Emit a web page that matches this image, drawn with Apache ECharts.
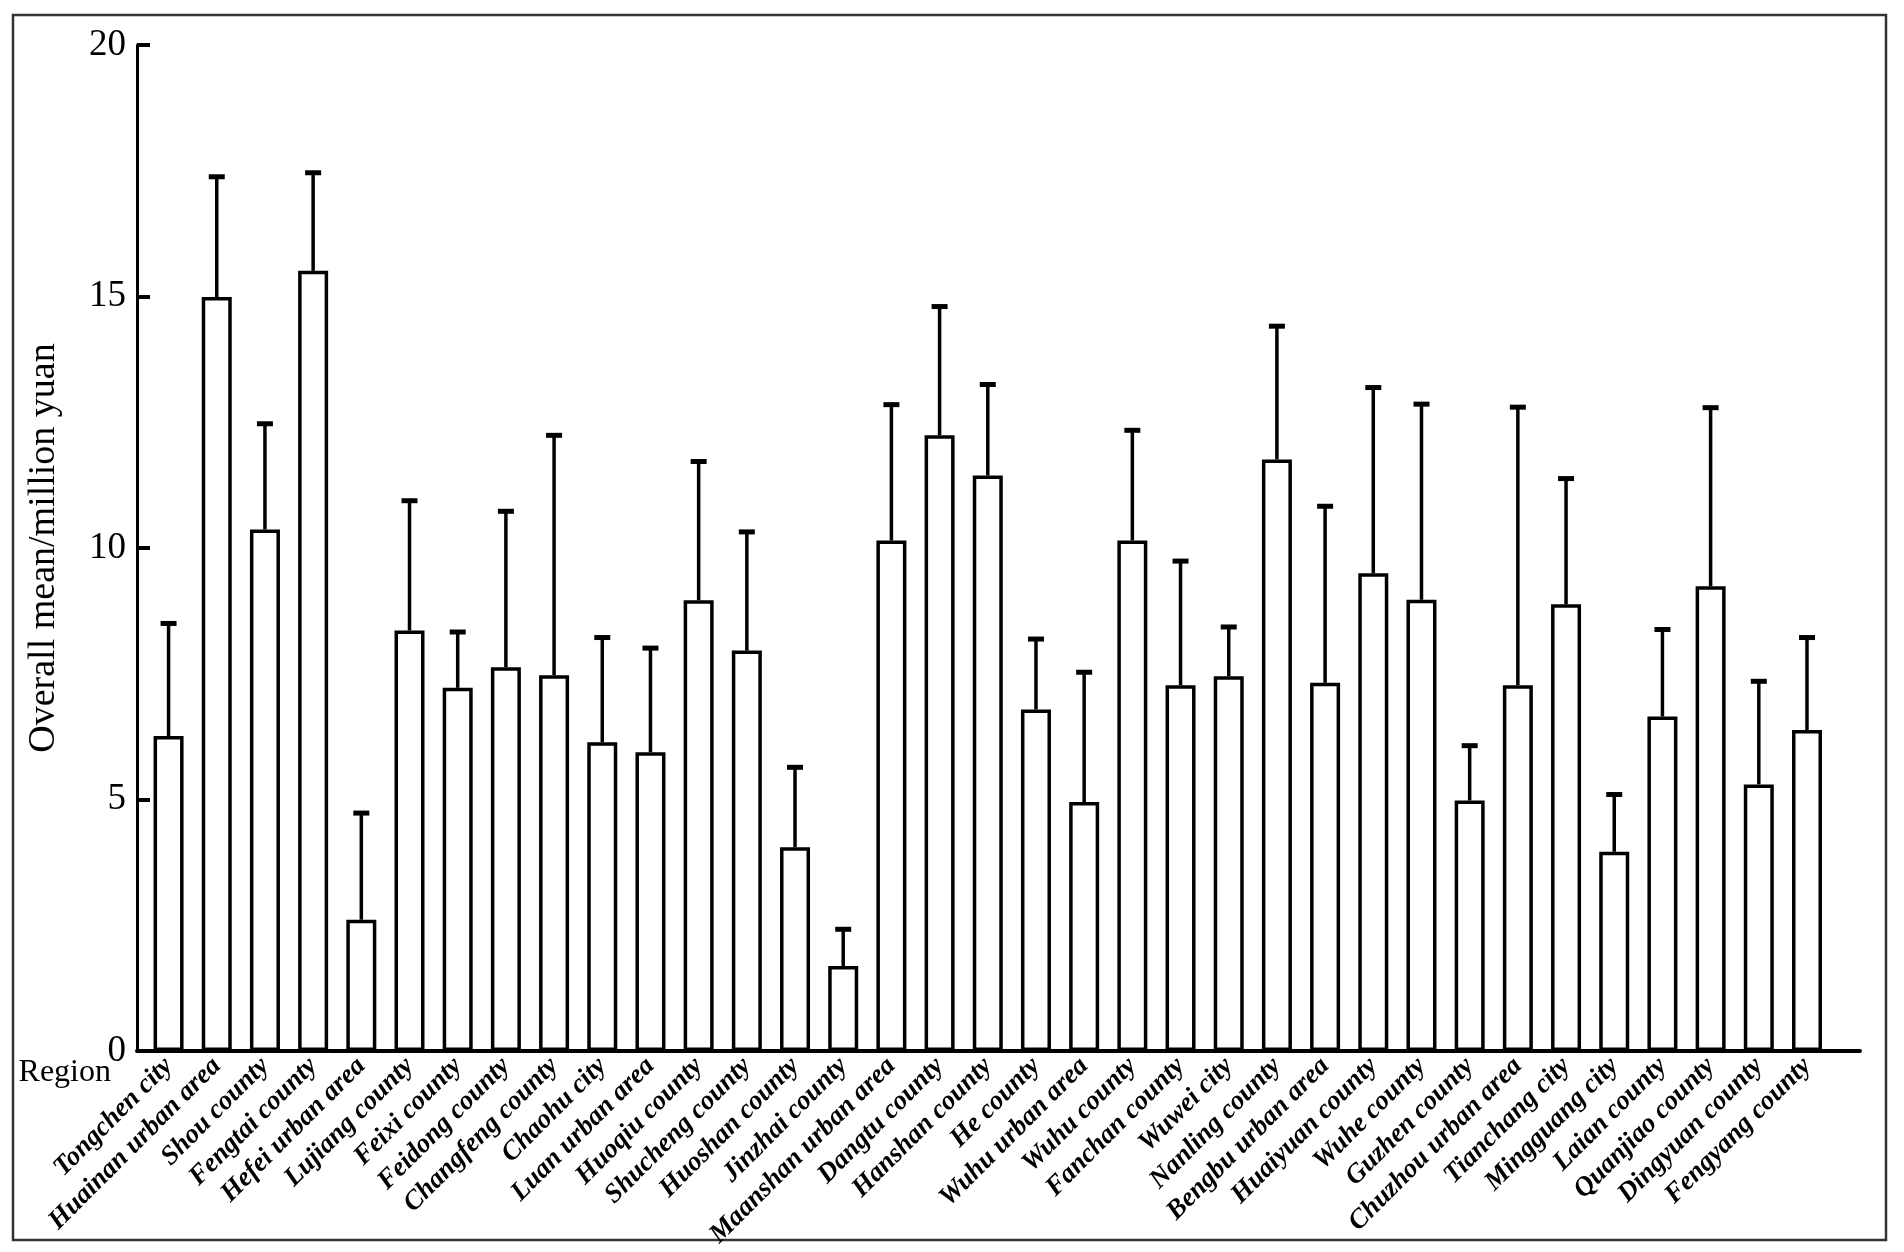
<!DOCTYPE html>
<html>
<head>
<meta charset="utf-8">
<script src="https://cdn.jsdelivr.net/npm/echarts@6/dist/echarts.min.js"></script>
<style>
html,body{margin:0;padding:0;background:#fff;}
#chart{width:1904px;height:1252px;}
</style>
</head>
<body>
<div id="chart"></div>
<script>
const categories = ["Tongchen city","Huainan urban area","Shou county","Fengtai county","Hefei urban area","Lujiang county","Feixi county","Feidong county","Changfeng county","Chaohu city","Luan urban area","Huoqiu county","Shucheng county","Huoshan county","Jinzhai county","Maanshan urban area","Dangtu county","Hanshan county","He county","Wuhu urban area","Wuhu county","Fanchan county","Wuwei city","Nanling county","Bengbu urban area","Huaiyuan county","Wuhe county","Guzhen county","Chuzhou urban area","Tianchang city","Mingguang city","Laian county","Quanjiao county","Dingyuan county","Fengyang county"];
const means = [6.26,14.99,10.37,15.51,2.61,8.36,7.22,7.63,7.47,6.14,5.94,8.96,7.96,4.05,1.69,10.15,12.24,11.44,6.79,4.95,10.15,7.27,7.45,11.76,7.32,9.50,8.97,4.98,7.27,8.88,3.96,6.65,9.24,5.30,6.38];
const errors = [2.24,2.39,2.10,1.95,2.12,2.58,1.11,3.10,4.77,2.08,2.07,2.76,2.36,1.59,0.73,2.70,2.56,1.81,1.40,2.58,2.19,2.47,0.98,2.65,3.51,3.69,3.89,1.09,5.53,2.50,1.14,1.73,3.55,2.05,1.84];
const yTicks = [0,5,10,15,20];

const serif = "'Liberation Serif','Times New Roman',serif";
const idx = categories.map((c,i)=>i);
const barData = means.map((v,i)=>[i,v]);
const errData = means.map((v,i)=>[i,v,v+errors[i]]);

const chart = echarts.init(document.getElementById('chart'));
chart.setOption({
  backgroundColor:'#fff',
  animation:false,
  graphic:[{type:'rect',shape:{x:13,y:15,width:1873,height:1225},style:{fill:'none',stroke:'#333',lineWidth:2.5},z:-1}],
  grid:{left:137,right:44,top:45,bottom:201},
  xAxis:{
    type:'value',min:-0.655,max:35.1,
    splitLine:{show:false},
    axisTick:{show:false},
    axisLine:{show:true,onZero:false,lineStyle:{color:'#000',width:4}},
    axisLabel:{
      customValues:idx,
      formatter:(v)=>categories[Math.round(v)]||'',
      rotate:45,margin:11,
      fontFamily:serif,fontStyle:'italic',fontWeight:'bold',fontSize:27,color:'#000'
    },
    name:'Region',nameLocation:'start',nameGap:26,nameMoveOverlap:false,
    nameTextStyle:{fontFamily:serif,fontSize:32,color:'#000',align:'right',verticalAlign:'top',padding:[6,0,0,0]}
  },
  yAxis:{
    type:'value',min:0,max:20,interval:5,
    splitLine:{show:false},
    axisLine:{show:true,onZero:false,lineStyle:{color:'#000',width:3}},
    axisTick:{show:true,inside:true,length:13,lineStyle:{color:'#000',width:4}},
    axisLabel:{fontFamily:serif,fontSize:37,color:'#000',margin:11,
      formatter:(v)=>yTicks.indexOf(v)>=0?String(v):''},
    name:'Overall mean/million yuan',nameLocation:'middle',nameRotate:90,nameGap:74,
    nameTextStyle:{fontFamily:serif,fontSize:38,color:'#000'}
  },
  series:[
    {type:'bar',data:barData,barWidth:30,
     itemStyle:{color:'#fff',borderColor:'#000',borderWidth:3.5},z:2},
    {type:'custom',data:errData,z:3,
     renderItem:function(params,api){
       const x=api.value(0);
       const p0=api.coord([x,api.value(1)]);
       const p1=api.coord([x,api.value(2)]);
       return {type:'group',children:[
         {type:'line',shape:{x1:p0[0],y1:p0[1],x2:p1[0],y2:p1[1]},style:{stroke:'#000',lineWidth:3.5}},
         {type:'line',shape:{x1:p1[0]-8,y1:p1[1],x2:p1[0]+8,y2:p1[1]},style:{stroke:'#000',lineWidth:5}}
       ]};
     }}
  ]
});
</script>
</body>
</html>
